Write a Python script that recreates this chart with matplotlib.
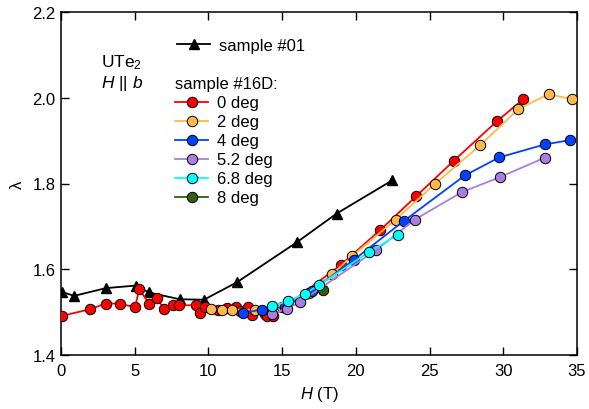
import numpy as np
import matplotlib
matplotlib.use("Agg")
import matplotlib.pyplot as plt

plt.rcParams['font.family'] = ['Liberation Sans', 'DejaVu Sans']
plt.rcParams['font.size'] = 12
plt.rcParams['mathtext.fontset'] = 'custom'
plt.rcParams['mathtext.rm'] = 'Liberation Sans'
plt.rcParams['mathtext.it'] = 'Liberation Sans:italic'

# sample #01
H_01 = [0.05, 0.9, 3.05, 5.1, 5.95, 8.05, 9.7, 11.95, 16.0, 18.7, 22.45]
lam_01 = [1.547, 1.538, 1.556, 1.562, 1.546, 1.530, 1.529, 1.570, 1.663, 1.730, 1.807]

# sample #16D, per angle
H_0 = [0.05, 1.99, 3.03, 4.0, 5.02, 5.3, 5.99, 6.49, 7.0, 7.62, 8.0, 9.13, 9.43, 9.77,
       10.67, 11.24, 11.9, 12.14, 12.7, 12.94, 13.84, 14.0, 14.4, 18.97, 21.64, 24.08,
       26.64, 29.56, 31.37]
lam_0 = [1.491, 1.507, 1.520, 1.520, 1.511, 1.553, 1.520, 1.532, 1.508, 1.516, 1.516, 1.516,
         1.497, 1.513, 1.506, 1.510, 1.511, 1.502, 1.512, 1.494, 1.496, 1.490, 1.492, 1.610,
         1.691, 1.770, 1.853, 1.945, 1.997]

H_2 = [10.2, 10.9, 11.58, 13.16, 15.0, 16.8, 18.37, 19.75, 22.71, 25.4, 28.43, 31.03, 33.07, 34.65]
lam_2 = [1.508, 1.506, 1.505, 1.506, 1.512, 1.545, 1.588, 1.631, 1.716, 1.800, 1.889, 1.974,
         2.008, 1.997]

H_4 = [12.37, 13.6, 15.2, 17.0, 19.87, 23.27, 27.4, 29.74, 32.8, 34.5]
lam_4 = [1.498, 1.506, 1.512, 1.550, 1.622, 1.713, 1.819, 1.861, 1.891, 1.901]

H_52 = [14.3, 15.3, 16.2, 21.38, 24.0, 27.2, 29.78, 32.8]
lam_52 = [1.496, 1.508, 1.523, 1.645, 1.716, 1.780, 1.815, 1.860]

H_68 = [14.3, 15.43, 16.56, 17.5, 20.9, 22.83]
lam_68 = [1.514, 1.526, 1.543, 1.563, 1.640, 1.680]

H_8 = [17.8]
lam_8 = [1.551]

fig = plt.figure(figsize=(5.89, 4.10), dpi=100)
ax = fig.add_axes([61/589, 1 - 356/410, 516/589, 343/410])

mk = dict(marker='o', ms=7.5, mec='black', mew=0.7, lw=1.3)
l01, = ax.plot(H_01, lam_01, color='black', marker='^', ms=7.5, lw=1.3, label='sample #01', zorder=2)
l8, = ax.plot(H_8, lam_8, color='#2f5e12', label='8 deg', zorder=2.5, **mk)
l0, = ax.plot(H_0, lam_0, color='#ff0000', label='0 deg', zorder=3, **mk)
l2, = ax.plot(H_2, lam_2, color='#ffb84a', label='2 deg', zorder=3.1, **mk)
l4, = ax.plot(H_4, lam_4, color='#0042ff', label='4 deg', zorder=3.2, **mk)
l52, = ax.plot(H_52, lam_52, color='#a87fe0', label='5.2 deg', zorder=3.3, **mk)
l68, = ax.plot(H_68, lam_68, color='#00ffff', label='6.8 deg', zorder=3.4, **mk)

ax.set_xlim(0, 35)
ax.set_ylim(1.4, 2.2)
ax.set_xticks(np.arange(0, 36, 5))
ax.set_yticks([1.4, 1.6, 1.8, 2.0, 2.2])
ax.tick_params(direction='in', top=True, right=True, length=6, width=1, labelsize=12, pad=4)
ax.tick_params(axis='x', pad=6)
for s in ax.spines.values():
    s.set_linewidth(1.1)

ax.set_xlabel('$H$ (T)', fontsize=12, labelpad=4)
ax.set_ylabel('λ', fontsize=12, labelpad=5)

ax.text(0.078, 0.856, 'UTe$_2$', transform=ax.transAxes, fontsize=12.5, va='center')
ax.text(0.078, 0.795, '$H$ || $b$', transform=ax.transAxes, fontsize=12.5, va='center')

leg1 = ax.legend(handles=[l01], loc='upper left', bbox_to_anchor=(0.225, 0.925),
                 frameon=False, borderpad=0, borderaxespad=0, handlelength=2.0,
                 handletextpad=0.5, fontsize=12)
ax.add_artist(leg1)
ax.legend(handles=[l0, l2, l4, l52, l68, l8], title='sample #16D:', title_fontsize=12,
          loc='upper left', bbox_to_anchor=(0.221, 0.812), frameon=False, borderpad=0,
          borderaxespad=0, handlelength=2.0, handletextpad=0.5, labelspacing=0.24,
          fontsize=12, alignment='left')

fig.savefig('out.png', dpi=100)
